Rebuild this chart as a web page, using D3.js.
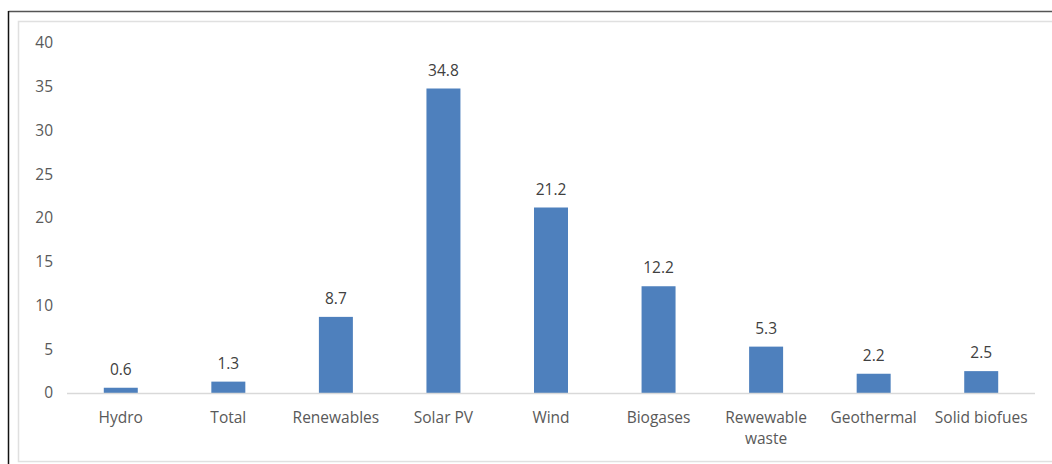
<!DOCTYPE html>
<html>
<head>
<meta charset="utf-8">
<script src="https://cdn.jsdelivr.net/npm/d3@7"></script>
<style>
  html, body { margin: 0; padding: 0; background: #fff; }
  svg { display: block; }
  text { font-family: "Open Sans", "Liberation Sans", sans-serif; }
</style>
</head>
<body>
<svg id="chart" width="1052" height="464"></svg>
<script>
// Growth by energy source
const categories = ["Hydro", "Total", "Renewables", "Solar PV", "Wind", "Biogases", "Rewewable\nwaste", "Geothermal", "Solid biofues"];
const values = [0.6, 1.3, 8.7, 34.8, 21.2, 12.2, 5.3, 2.2, 2.5];
const yTicks = [0, 5, 10, 15, 20, 25, 30, 35, 40];

const svg = d3.select("#chart");
const W = 1052, H = 464;
const FS = "15.5px";

// frame: dark outer edge and a light inner border
svg.append("line").attr("x1", 8.5).attr("x2", W).attr("y1", 11.5).attr("y2", 11.5)
  .attr("stroke", "#555").attr("stroke-width", 1.5);
svg.append("line").attr("x1", 8.5).attr("x2", 8.5).attr("y1", 11).attr("y2", H)
  .attr("stroke", "#111").attr("stroke-width", 1.5);
svg.append("rect").attr("x", 18.5).attr("y", 21.5).attr("width", W).attr("height", 440)
  .attr("fill", "none").attr("stroke", "#e0e0e0").attr("stroke-width", 1.5);

const margin = { left: 67, right: 17, top: 43, bottom: 71 };
const x = d3.scaleBand().domain(categories).range([margin.left, W - margin.right]).paddingInner(0.684).paddingOuter(0.342);
const y = d3.scaleLinear().domain([0, 40]).range([H - margin.bottom, margin.top]);

// y tick labels (no axis line or gridlines)
const yAxis = svg.append("g").attr("transform", `translate(${margin.left - 14},0)`)
  .call(d3.axisLeft(y).tickValues(yTicks).tickSize(0).tickPadding(0));
yAxis.select(".domain").remove();
yAxis.selectAll("text").attr("fill", "#595959").style("font-size", FS)
  .style("font-family", "'Open Sans', sans-serif");

// bars
svg.append("g").selectAll("rect").data(values).join("rect")
  .attr("x", (d, i) => x(categories[i]))
  .attr("y", d => y(d))
  .attr("width", x.bandwidth())
  .attr("height", d => y(0) - y(d))
  .attr("fill", "#4e80bd");

// baseline
svg.append("line").attr("x1", margin.left).attr("x2", W - margin.right)
  .attr("y1", y(0) + 0.5).attr("y2", y(0) + 0.5).attr("stroke", "#d9d9d9").attr("stroke-width", 1.5);

// value labels
svg.append("g").selectAll("text").data(values).join("text")
  .attr("x", (d, i) => x(categories[i]) + x.bandwidth() / 2)
  .attr("y", d => y(d) - 13)
  .attr("text-anchor", "middle")
  .attr("fill", "#404040")
  .style("font-size", FS)
  .text(d => d3.format(".1f")(d));

// category labels
const xl = svg.append("g").selectAll("text").data(categories).join("text")
  .attr("x", d => x(d) + x.bandwidth() / 2)
  .attr("y", y(0) + 30)
  .attr("text-anchor", "middle")
  .attr("fill", "#595959")
  .style("font-size", FS);
xl.each(function(d) {
  const t = d3.select(this);
  d.split("\n").forEach((line, k) => {
    t.append("tspan").attr("x", t.attr("x")).attr("dy", k === 0 ? 0 : 21).text(line);
  });
});
</script>
</body>
</html>
